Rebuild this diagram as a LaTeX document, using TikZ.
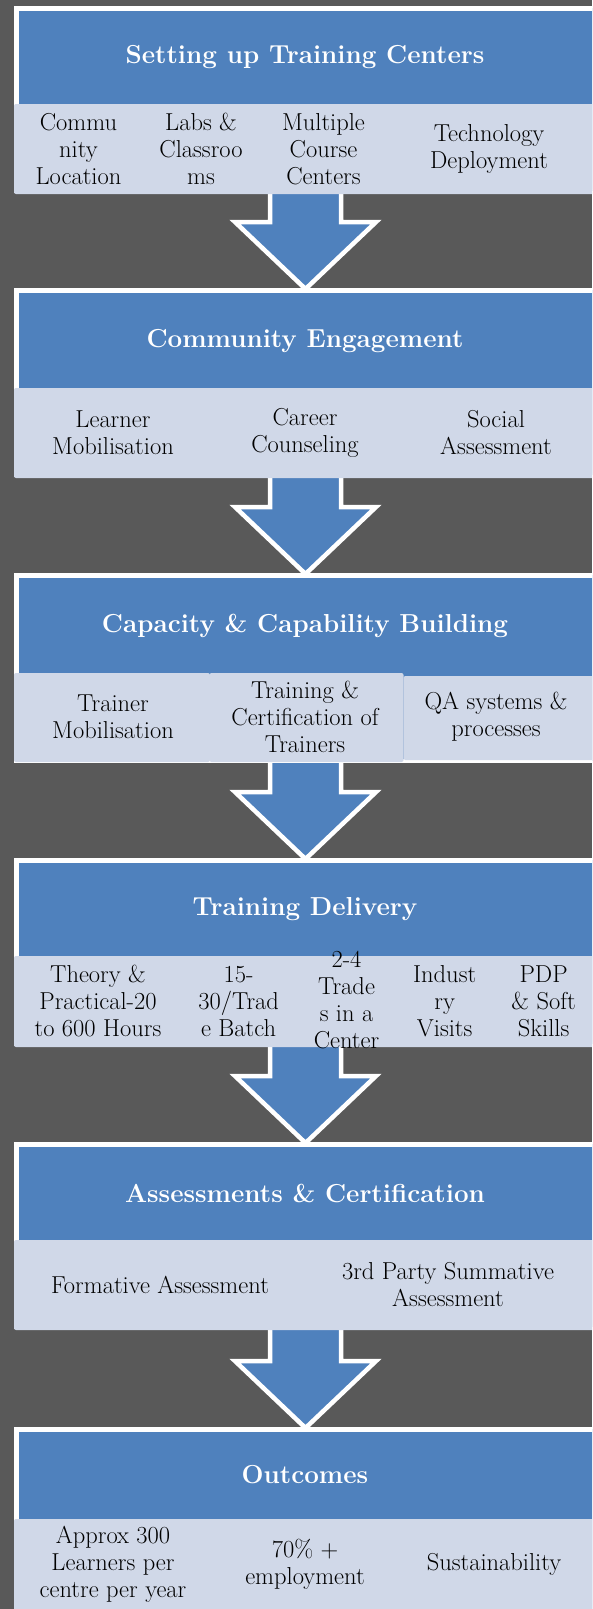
\documentclass[tikz,border=0pt]{standalone}
\usetikzlibrary{calc}
\definecolor{bggray}{HTML}{595959}
\definecolor{hblue}{HTML}{4F81BD}
\definecolor{lblue}{HTML}{D0D8E8}
\tikzset{
  hdr/.style={draw=white, line width=4.5pt, fill=hblue, inner sep=0pt, outer sep=0pt, anchor=north west},
  subbox/.style={fill=lblue, rounded corners=2pt, inner sep=0pt, outer sep=0pt, anchor=north west},
  arr/.style={draw=white, line width=4.5pt, fill=hblue, line join=miter, miter limit=10},
  ttl/.style={text=white, font=\fontsize{26}{30}\selectfont\bfseries, inner sep=0pt},
  item/.style={text=black, align=center, font=\fontsize{24.5}{27}\selectfont, inner sep=0pt}
}
\newcommand{\blockarrow}[2]{%
  \draw[arr] ($(#1)+(-35.5,0)$) -- ($(#2)+(-35.5,-67)$) -- ($(#2)+(-70.5,-67)$) -- (#2)
    -- ($(#2)+(70.5,-67)$) -- ($(#2)+(35.5,-67)$) -- ($(#1)+(35.5,0)$) -- cycle;}
\begin{document}
\begin{tikzpicture}[x=1pt,y=-1pt]
\useasboundingbox (0,0) rectangle (592,1609);
\fill[bggray] (0,0) rectangle (592,1609);
\clip (0,0) rectangle (592,1609);
% arrow endpoints
\coordinate (a1s) at (305.5,185); \coordinate (a1e) at (305.5,289);
\coordinate (a2s) at (305.5,470); \coordinate (a2e) at (305.5,574);
\coordinate (a3s) at (305.5,750); \coordinate (a3e) at (305.5,859);
\coordinate (a4s) at (305.5,1040); \coordinate (a4e) at (305.5,1143);
\coordinate (a5s) at (305.5,1320); \coordinate (a5e) at (305.5,1428);
\blockarrow{a1s}{a1e}
\blockarrow{a2s}{a2e}
\blockarrow{a3s}{a3e}
\blockarrow{a4s}{a4e}
\blockarrow{a5s}{a5e}
% ---------- Section 1
\node[hdr, minimum width=620pt, minimum height=182.75pt] (h1) at (16.25,8.25) {};
\node[subbox, minimum width=620pt, minimum height=90pt] (l1) at (14,104) {};
\node[ttl] (t1) at (305,57) {Setting up Training Centers};
\node[item] (i11) at (78.5,149) {Commu\\nity\\Location};
\node[item] (i12) at (201,149) {Labs \&\\Classroo\\ms};
\node[item] (i13) at (323.5,149) {Multiple\\Course\\Centers};
\node[item] (i14) at (489,149) {Technology\\Deployment};
% ---------- Section 2
\node[hdr, minimum width=620pt, minimum height=184.75pt] (h2) at (16.25,290.25) {};
\node[subbox, minimum width=620pt, minimum height=90pt] (l2) at (14,388) {};
\node[ttl] (t2) at (305,341) {Community Engagement};
\node[item] (i21) at (113,433) {Learner\\Mobilisation};
\node[item] (i22) at (305,433) {Career\\Counseling};
\node[item] (i23) at (496,433) {Social\\Assessment};
% ---------- Section 3
\node[hdr, minimum width=620pt, minimum height=185.5pt] (h3) at (16.25,575.25) {};
\node[subbox, minimum width=196pt, minimum height=89pt] (l31) at (14,673) {};
\node[subbox, minimum width=194pt, minimum height=89pt] (l32) at (209.5,673) {};
\node[subbox, minimum width=220pt, minimum height=84pt] (l33) at (403.5,676) {};
\node[ttl] (t3) at (305,626) {Capacity \& Capability Building};
\node[item] (i31) at (113,717) {Trainer\\Mobilisation};
\node[item] (i32) at (305,717) {Training \&\\Certification of\\Trainers};
\node[item] (i33) at (496,717) {QA systems \&\\processes};
% ---------- Section 4
\node[hdr, minimum width=620pt, minimum height=183.75pt] (h4) at (16.25,860.25) {};
\node[subbox, minimum width=620pt, minimum height=91pt] (l4) at (14,956) {};
\node[ttl] (t4) at (305,909) {Training Delivery};
\node[item] (i41) at (98,1001) {Theory \&\\Practical-20\\to 600 Hours};
\node[item] (i42) at (238.6,1001) {15-\\30/Trad\\e Batch};
\node[item] (i43) at (346.5,1000) {2-4\\Trade\\s in a\\Center};
\node[item] (i44) at (444.7,1001) {Indust\\ry\\Visits};
\node[item] (i45) at (543.6,1001) {PDP\\\& Soft\\Skills};
% ---------- Section 5
\node[hdr, minimum width=620pt, minimum height=182.75pt] (h5) at (16.25,1144.25) {};
\node[subbox, minimum width=620pt, minimum height=90pt] (l5) at (14,1240) {};
\node[ttl] (t5) at (305,1193) {Assessments \& Certification};
\node[item] (i51) at (160,1285) {Formative Assessment};
\node[item] (i52) at (448,1285) {3rd Party Summative\\Assessment};
% ---------- Section 6
\node[hdr, minimum width=620pt, minimum height=200pt] (h6) at (16.25,1429.25) {};
\node[subbox, minimum width=620pt, minimum height=100pt] (l6) at (14,1519) {};
\node[ttl] (t6) at (305,1475) {Outcomes};
\node[item] (i61) at (113,1564) {Approx 300\\Learners per\\centre per year};
\node[item] (i62) at (305,1564) {70\% +\\employment};
\node[item] (i63) at (494,1564) {Sustainability};
\end{tikzpicture}
\end{document}
